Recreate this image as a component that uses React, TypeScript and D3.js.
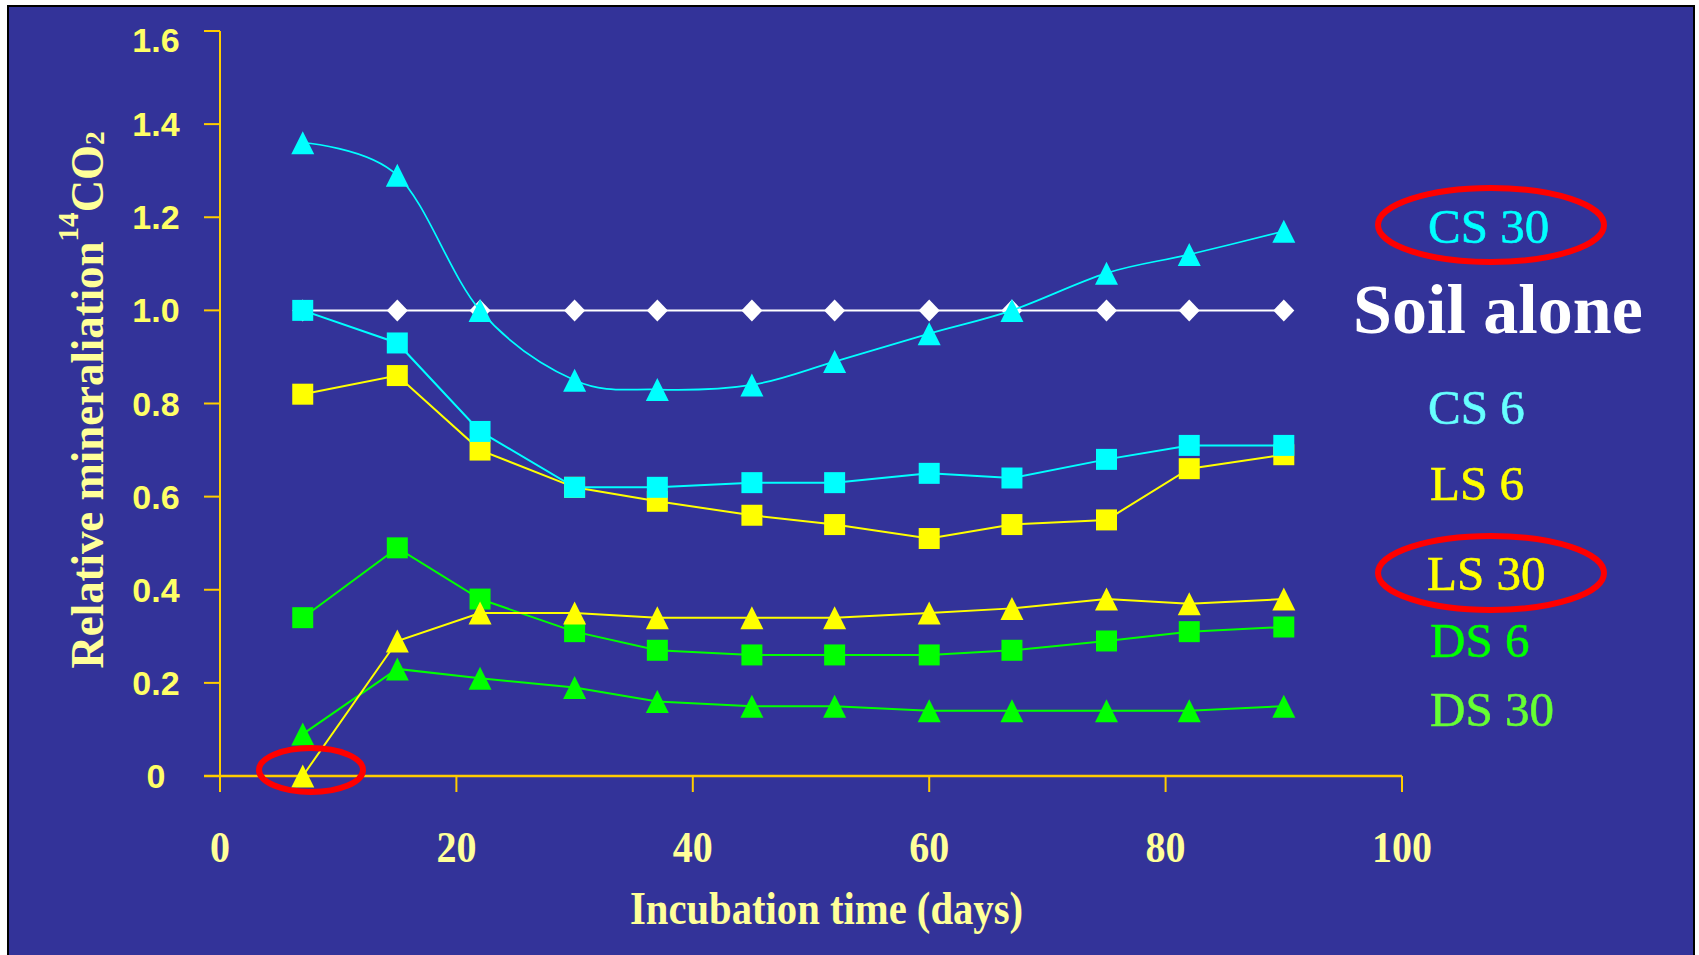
import React from "react";
import * as d3 from "d3";

// ---------- data ----------
const days = [7, 15, 22, 30, 37, 45, 52, 60, 67, 75, 82, 90];
const soilAlone = [1, 1, 1, 1, 1, 1, 1, 1, 1, 1, 1, 1];
const cs30 = [1.36, 1.29, 1.0, 0.85, 0.83, 0.84, 0.89, 0.95, 1.0, 1.08, 1.12, 1.17];
const cs6 = [1.0, 0.93, 0.74, 0.62, 0.62, 0.63, 0.63, 0.65, 0.64, 0.68, 0.71, 0.71];
const ls6 = [0.82, 0.86, 0.7, 0.62, 0.59, 0.56, 0.54, 0.51, 0.54, 0.55, 0.66, 0.69];
const ls30 = [0.0, 0.29, 0.35, 0.35, 0.34, 0.34, 0.34, 0.35, 0.36, 0.38, 0.37, 0.38];
const ds6 = [0.34, 0.49, 0.38, 0.31, 0.27, 0.26, 0.26, 0.26, 0.27, 0.29, 0.31, 0.32];
const ds30 = [0.09, 0.23, 0.21, 0.19, 0.16, 0.15, 0.15, 0.14, 0.14, 0.14, 0.14, 0.15];

const xTicks = [0, 20, 40, 60, 80, 100];
const xTickLabels = ["0", "20", "40", "60", "80", "100"];
const yTicks = [0, 0.2, 0.4, 0.6, 0.8, 1.0, 1.2, 1.4, 1.6];
const yTickLabels = ["0", "0.2", "0.4", "0.6", "0.8", "1.0", "1.2", "1.4", "1.6"];

const legendNames = ["CS 30", "Soil alone", "CS 6", "LS 6", "LS 30", "DS 6", "DS 30"];

// ---------- layout / style ----------
const W = 1699;
const H = 955;
const BG = "#333399";
const AXIS = "#FFCC00";
const TICK_TXT = "#FFFF66";
const TITLE_TXT = "#FFFF99";
const SERIF = "'Liberation Serif', 'Times New Roman', serif";
const SANS = "'Liberation Sans', Arial, sans-serif";

type Shape = "diamond" | "square" | "triangle";
interface SeriesDef {
  values: number[];
  color: string;
  shape: Shape;
  smooth: boolean;
  width: number;
}

// drawing order (later on top)
const series: SeriesDef[] = [
  { values: soilAlone, color: "#FFFFFF", shape: "diamond", smooth: false, width: 2 },
  { values: ds30, color: "#00FF00", shape: "triangle", smooth: false, width: 2 },
  { values: ds6, color: "#00FF00", shape: "square", smooth: false, width: 2 },
  { values: ls30, color: "#FFFF00", shape: "triangle", smooth: false, width: 2 },
  { values: ls6, color: "#FFFF00", shape: "square", smooth: false, width: 2 },
  { values: cs6, color: "#00FFFF", shape: "square", smooth: false, width: 2 },
  { values: cs30, color: "#00FFFF", shape: "triangle", smooth: true, width: 1.7 },
];

const legendLayout = [
  { x: 1428, y: 243, color: "#00FFFF", size: 49, weight: "normal" },
  { x: 1353, y: 333, color: "#FFFFFF", size: 70, weight: "bold" },
  { x: 1428, y: 424, color: "#66FFFF", size: 49, weight: "normal" },
  { x: 1430, y: 500, color: "#FFFF00", size: 49, weight: "normal" },
  { x: 1427, y: 590, color: "#FFFF00", size: 49, weight: "normal" },
  { x: 1430, y: 657, color: "#00FF00", size: 49, weight: "normal" },
  { x: 1430, y: 726, color: "#66FF33", size: 49, weight: "normal" },
];

const ellipses = [
  { cx: 1491, cy: 225, rx: 113, ry: 37 },
  { cx: 1491, cy: 573, rx: 113, ry: 37 },
  { cx: 311, cy: 770, rx: 52, ry: 22 },
];

function markerPath(shape: Shape, x: number, y: number): string {
  if (shape === "square") {
    const h = 10.5;
    return `M${x - h},${y - h}H${x + h}V${y + h}H${x - h}Z`;
  }
  if (shape === "triangle") {
    const h = 11.5;
    return `M${x},${y - h}L${x + h},${y + h}L${x - h},${y + h}Z`;
  }
  const hw = 10.5;
  const hh = 11;
  return `M${x},${y - hh}L${x + hw},${y}L${x},${y + hh}L${x - hw},${y}Z`;
}

export default function App() {
  const x = d3.scaleLinear().domain([0, 100]).range([220, 1402]);
  const y = d3.scaleLinear().domain([0, 1.6]).range([776, 31]);
  const x0 = x(0);
  const y0 = y(0);
  const tickLen = 16;

  return (
    <div style={{ position: "absolute", left: 0, top: 0, width: W, height: H, overflow: "hidden" }}>
      <svg width={W} height={H} style={{ display: "block" }}>
        <rect x={0} y={0} width={W} height={H} fill="#FFFFFF" />
        <rect x={8} y={6} width={1686} height={H} fill={BG} stroke="#000000" strokeWidth={2} />

        {/* axes */}
        <line x1={x0} y1={y(1.6)} x2={x0} y2={y0 + tickLen} stroke={AXIS} strokeWidth={2} />
        <line x1={x0 - tickLen} y1={y0} x2={x(100)} y2={y0} stroke={AXIS} strokeWidth={2.5} />
        {yTicks.map((t) => (
          <line key={"yt" + t} x1={x0 - tickLen} x2={x0} y1={y(t)} y2={y(t)} stroke={AXIS} strokeWidth={2} />
        ))}
        {xTicks.map((t) => (
          <line key={"xt" + t} x1={x(t)} x2={x(t)} y1={y0} y2={y0 + tickLen} stroke={AXIS} strokeWidth={2} />
        ))}

        {/* y tick labels */}
        {yTicks.map((t, i) => (
          <text
            key={"yl" + t}
            x={156}
            y={Math.max(y(t), y(1.6) + 9) + 12}
            textAnchor="middle"
            fontFamily={SANS}
            fontWeight="bold"
            fontSize={34}
            fill={TICK_TXT}
          >
            {yTickLabels[i]}
          </text>
        ))}

        {/* x tick labels */}
        {xTicks.map((t, i) => (
          <text
            key={"xl" + t}
            x={x(t)}
            y={862}
            textAnchor="middle"
            fontFamily={SERIF}
            fontWeight="bold"
            fontSize={44}
            fill={TITLE_TXT}
            textLength={xTickLabels[i].length * 20}
            lengthAdjust="spacingAndGlyphs"
          >
            {xTickLabels[i]}
          </text>
        ))}

        {/* axis titles */}
        <text
          x={826.5}
          y={924}
          textAnchor="middle"
          fontFamily={SERIF}
          fontWeight="bold"
          fontSize={47}
          fill={TITLE_TXT}
          textLength={393}
          lengthAdjust="spacingAndGlyphs"
        >
          Incubation time (days)
        </text>
        <text
          transform="translate(103,400) rotate(-90) scale(0.975,1)"
          textAnchor="middle"
          fontFamily={SERIF}
          fontWeight="bold"
          fontSize={46}
          fill={TITLE_TXT}
        >
          Relative mineraliation
          <tspan fontSize={30} dy={-25}>14</tspan>
          <tspan dy={25}>CO</tspan>
          <tspan fontSize={28} dy={1}>2</tspan>
        </text>

        {/* series */}
        {series.map((s, si) => {
          const pts: [number, number][] = days.map((d, i) => [x(d), y(s.values[i])]);
          const gen = d3
            .line<[number, number]>()
            .x((p) => p[0])
            .y((p) => p[1])
            .curve(s.smooth ? d3.curveCardinal.tension(0) : d3.curveLinear);
          return (
            <g key={"s" + si}>
              <path d={gen(pts) || ""} fill="none" stroke={s.color} strokeWidth={s.width} />
              {pts.map((p, i) => (
                <path key={i} d={markerPath(s.shape, p[0], p[1])} fill={s.color} />
              ))}
            </g>
          );
        })}

        {/* legend labels */}
        {legendNames.map((n, i) => (
          <text
            key={n}
            x={legendLayout[i].x}
            y={legendLayout[i].y}
            fontFamily={SERIF}
            fontWeight={legendLayout[i].weight}
            fontSize={legendLayout[i].size}
            fill={legendLayout[i].color}
            stroke={legendLayout[i].weight === "normal" ? legendLayout[i].color : "none"}
            strokeWidth={0.6}
          >
            {n}
          </text>
        ))}

        {/* red highlight ellipses */}
        {ellipses.map((e, i) => (
          <ellipse key={"e" + i} cx={e.cx} cy={e.cy} rx={e.rx} ry={e.ry} fill="none" stroke="#FF0000" strokeWidth={6} />
        ))}
      </svg>
    </div>
  );
}
